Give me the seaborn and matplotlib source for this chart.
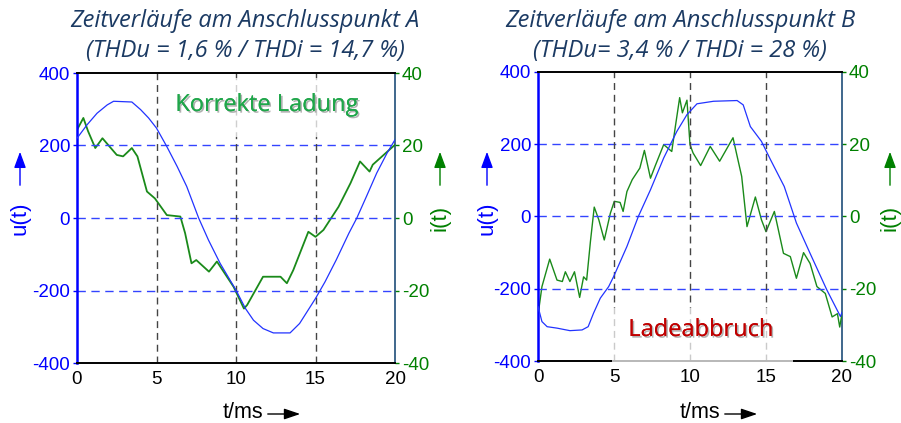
import matplotlib
matplotlib.use("Agg")
import matplotlib.pyplot as plt
import matplotlib.patheffects as pe
import seaborn as sns
import pandas as pd

# ---------------- data ----------------
tA_u = [0, 0.63, 1.26, 1.9, 2.3, 3.45, 4.0, 4.5, 5.0, 5.65, 6.3, 6.9, 7.65, 8.27, 9.0, 10.0,
        10.6, 11.1, 11.7, 12.35, 13.4, 14.0, 15.0, 15.6, 16.3, 17.1, 17.6, 18.2, 18.85, 19.5, 20.0]
uA = [220, 257, 289, 312, 322, 320, 299, 276, 248, 197, 142, 87, 0, -61, -125, -199,
      -250, -282, -305, -317, -317, -291, -222, -176, -116, -42, 0, 59, 124, 179, 216]

tA_i = [0, 0.4, 0.7, 1.15, 1.6, 2.5, 2.9, 3.45, 3.8, 4.4, 4.9, 5.65, 6.5, 6.8, 7.2, 7.5,
        8.3, 8.8, 9.85, 10.5, 10.7, 11.7, 12.8, 13.2, 13.6, 14.55, 15.0, 15.5, 16.45, 17.2,
        17.8, 18.4, 18.6, 20.0]
iA = [24.3, 27.6, 23.9, 19.3, 22.0, 17.4, 17.0, 19.3, 17.0, 7.3, 5.4, 0.8, 0.4, -4.2, -12.5, -11.6,
      -14.8, -12.0, -19.0, -25.0, -24.0, -16.2, -16.2, -18.0, -14.4, -3.8, -5.2, -3.3, 3.1, 9.6,
      15.6, 12.8, 14.7, 20.2]

tB_u = [0, 0.26, 0.6, 1.25, 2.1, 2.9, 3.3, 3.65, 4.1, 4.65, 4.98, 5.85, 6.6, 7.4, 8.27, 9.14,
        9.8, 10.46, 11.55, 13.1, 13.5, 13.97, 14.7, 15.3, 16.2, 17.0, 17.9, 19.0, 19.9, 20.0]
uB = [-249, -291, -305, -309, -316, -314, -305, -268, -226, -194, -166, -83, 0, 74, 162, 236,
      282, 312, 319, 321, 309, 249, 208, 157, 83, -18, -102, -203, -277, -265]

tB_i = [0, 0.26, 0.77, 1.25, 1.6, 1.8, 2.1, 2.4, 2.74, 3.0, 3.2, 3.45, 3.7, 4.0, 4.36, 4.76,
        5.02, 5.4, 5.6, 5.85, 6.2, 6.7, 7.0, 7.4, 7.7, 8.27, 8.8, 9.04, 9.32, 9.5, 9.8, 10.0,
        10.2, 10.7, 11.33, 11.95, 12.83, 13.1, 13.4, 13.75, 14.3, 14.7, 15.0, 15.55, 16.15,
        16.6, 17.0, 17.47, 17.9, 18.35, 18.9, 19.35, 19.7, 19.85, 20.0]
iB = [-27.3, -19.4, -11.8, -17.6, -18.0, -15.3, -18.0, -15.3, -22.4, -16.7, -17.6, -6.9, 2.6, -0.9,
      -6.5, 0.9, 4.2, 3.9, 1.4, 6.9, 10.2, 13.4, 18.3, 10.6, 13.9, 19.9, 18.0, 25.0, 32.9, 28.7,
      32.2, 19.9, 17.6, 14.1, 19.4, 15.3, 21.8, 16.7, 11.1, -2.8, 5.4, -0.9, -4.2, 1.4, -10.2,
      -11.1, -17.1, -10.0, -13.0, -19.4, -21.3, -27.8, -26.9, -30.6, -26.9]

titles = ["Zeitverläufe am Anschlusspunkt A\n(THDu = 1,6 % / THDi = 14,7 %)",
          "Zeitverläufe am Anschlusspunkt B\n(THDu= 3,4 % / THDi = 28 %)"]
notes = ["Korrekte Ladung", "Ladeabbruch"]
x_ticks = [0, 5, 10, 15, 20]
u_ticks = [-400, -200, 0, 200, 400]
i_ticks = [-40, -20, 0, 20, 40]

# ---------------- style ----------------
sns.set_style("white")
plt.rcParams['font.family'] = ['Liberation Sans', 'DejaVu Sans']
plt.rcParams['axes.unicode_minus'] = False

BLUE = '#0000ff'
GREEN = '#008000'
TITLE_C = '#1b3a63'
SPINE_R = '#1f4e79'

fig = plt.figure(figsize=(9.01, 4.23), dpi=100)
W, H = 901, 423

def px_axes(x0, y0, x1, y1):
    return fig.add_axes([x0 / W, 1 - y1 / H, (x1 - x0) / W, (y1 - y0) / H])

panels = [
    dict(box=(77, 73, 395, 363), tu=tA_u, u=uA, ti=tA_i, i=iA, tcx=245, lw_i=1.3),
    dict(box=(538, 72, 842, 361), tu=tB_u, u=uB, ti=tB_i, i=iB, tcx=680, lw_i=1.0),
]

for k, p in enumerate(panels):
    ax = px_axes(*p['box'])
    ax2 = ax.twinx()
    ax.set_zorder(ax2.get_zorder() + 1)
    ax.patch.set_visible(False)

    dfu = pd.DataFrame({'t': p['tu'], 'u': p['u']})
    dfi = pd.DataFrame({'t': p['ti'], 'i': p['i']})
    sns.lineplot(data=dfi, x='t', y='i', ax=ax2, color='#1a8a1a', linewidth=p['lw_i'], zorder=3)
    sns.lineplot(data=dfu, x='t', y='u', ax=ax, color='#2233ff', linewidth=0.9, zorder=4)

    ax.set_xlim(0, 20)
    ax.set_ylim(-400, 400)
    ax2.set_ylim(-40, 40)
    ax.set_xticks(x_ticks)
    ax.set_yticks(u_ticks)
    ax2.set_yticks(i_ticks)
    ax.set_xlabel('')
    ax.set_ylabel('')
    ax2.set_ylabel('')

    for yv in [-200, 0, 200]:
        ax.axhline(yv, color='#3344ff', lw=1.0, dashes=(6, 4), zorder=1)
    for xv in [5, 10, 15]:
        ax.axvline(xv, color='#444444', lw=1.0, dashes=(5, 3.5), zorder=1)

    ax.tick_params(axis='y', colors=BLUE, labelsize=13.5, length=3, width=1, pad=2, direction='out')
    ax.tick_params(axis='x', colors='black', labelsize=13.5, length=0, pad=6)
    ax2.tick_params(axis='y', colors=GREEN, labelsize=13.5, length=3, width=1, pad=2, direction='out')
    for lab in ax.get_yticklabels():
        lab.set_color(BLUE)
    for lab in ax2.get_yticklabels():
        lab.set_color(GREEN)

    for a in (ax, ax2):
        for s in a.spines.values():
            s.set_visible(True)
    ax.spines['left'].set_color(BLUE)
    ax.spines['left'].set_linewidth(1.8)
    ax2.spines['left'].set_visible(False)
    ax2.spines['right'].set_color(SPINE_R)
    ax2.spines['right'].set_linewidth(1.2)
    ax.spines['right'].set_visible(False)
    for s in ('top', 'bottom'):
        ax.spines[s].set_color('black')
        ax.spines[s].set_linewidth(1.4)
        ax2.spines[s].set_visible(False)

    fig.text(p['tcx'] / W, 1 - 36 / H, titles[k], ha='center', va='center',
             fontsize=17, style='italic', color=TITLE_C, family=['Open Sans', 'DejaVu Sans'],
             linespacing=1.28)

    # y labels with arrows
    lx = 20 if k == 0 else 487
    rx = 440 if k == 0 else 890
    fig.text(lx / W, 1 - 218 / H, 'u(t)', rotation=90, ha='center', va='center',
             fontsize=16, color=BLUE)
    fig.text(rx / W, 1 - 218 / H, 'i(t)', rotation=90, ha='center', va='center',
             fontsize=16, color=GREEN)
    for xx, col in ((lx, BLUE), (rx, GREEN)):
        fig.add_artist(matplotlib.patches.FancyArrowPatch(
            (xx / W, 1 - 188 / H), (xx / W, 1 - 149 / H), transform=fig.transFigure,
            arrowstyle='-|>,head_length=6.5,head_width=2.4', mutation_scale=1.5,
            color=col, lw=1.0))

    # x label with arrow
    xl = 258 if k == 0 else 715
    fig.text((xl - 15) / W, 1 - 412 / H, 't/ms', ha='center', va='center',
             fontsize=15.5, color='black')
    fig.add_artist(matplotlib.patches.FancyArrowPatch(
        ((xl + 7) / W, 1 - 414 / H), ((xl + 45) / W, 1 - 414 / H), transform=fig.transFigure,
        arrowstyle='-|>,head_length=6.5,head_width=2.2', mutation_scale=1.5,
        color='black', lw=1.0))

    shadow = [pe.withSimplePatchShadow(offset=(1.2, -1.2), shadow_rgbFace='#000000', alpha=0.3), pe.Normal()]
    if k == 0:
        fig.patches.append(matplotlib.patches.Rectangle(
            (170 / W, 1 - 137 / H), (365 - 170) / W, (137 - 78) / H, transform=fig.transFigure,
            facecolor='white', edgecolor='none', alpha=0.75, zorder=5))
        t = fig.text(267 / W, 1 - 105 / H, notes[0], ha='center', va='center', fontsize=17,
                     color='#1fa64a', family=['Open Sans', 'DejaVu Sans'], zorder=6)
    else:
        fig.patches.append(matplotlib.patches.Rectangle(
            (612 / W, 1 - 363 / H), (793 - 612) / W, (363 - 308) / H, transform=fig.transFigure,
            facecolor='white', edgecolor='none', alpha=0.72, zorder=5))
        t = fig.text(701 / W, 1 - 330 / H, notes[1], ha='center', va='center', fontsize=17,
                     color='#c00000', family=['Open Sans', 'DejaVu Sans'], zorder=6)
    t.set_path_effects(shadow)

fig.savefig('out.png', dpi=100)
